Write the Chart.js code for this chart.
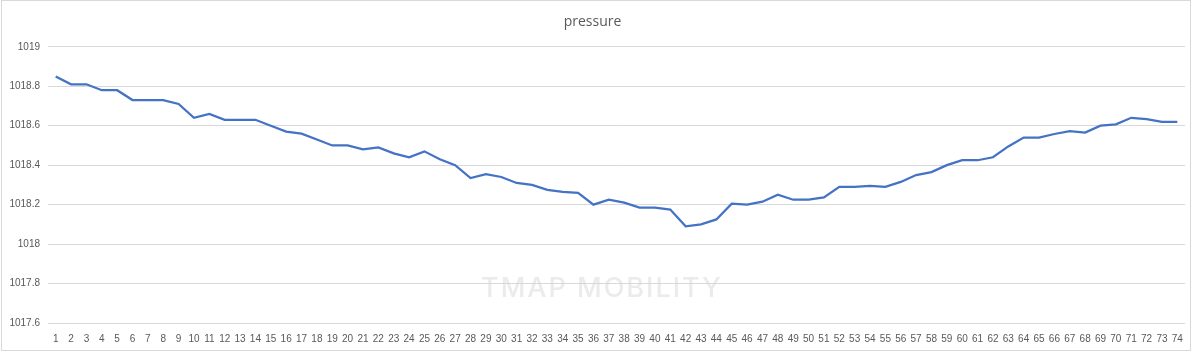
<!DOCTYPE html>
<html>
<head>
<meta charset="utf-8">
<script src="https://cdn.jsdelivr.net/npm/chart.js@4/dist/chart.umd.min.js"></script>
<style>
  html, body { margin: 0; padding: 0; background: #fff; }
  #wrap { width: 1201px; height: 353px; position: relative; }
</style>
</head>
<body>
<div id="wrap"><canvas id="pressure-chart" width="1201" height="353"></canvas></div>
<script>
const labels = Array.from({length: 74}, (_, i) => String(i + 1));

const pressure = [
    1018.85, 1018.81, 1018.81, 1018.78, 1018.78, 1018.73, 1018.73, 1018.73, 1018.71, 1018.64,
    1018.66, 1018.63, 1018.63, 1018.63, 1018.60, 1018.57, 1018.56, 1018.53, 1018.50, 1018.50,
    1018.48, 1018.49, 1018.46, 1018.44, 1018.47, 1018.43, 1018.40, 1018.335, 1018.355, 1018.34,
    1018.31, 1018.30, 1018.275, 1018.265, 1018.26, 1018.20, 1018.225, 1018.21, 1018.185, 1018.185,
    1018.175, 1018.09, 1018.10, 1018.125, 1018.205, 1018.20, 1018.215, 1018.25, 1018.225, 1018.225,
    1018.237, 1018.29, 1018.29, 1018.295, 1018.29, 1018.315, 1018.35, 1018.365, 1018.40, 1018.425,
    1018.425, 1018.44, 1018.495, 1018.54, 1018.54, 1018.558, 1018.572, 1018.565, 1018.60, 1018.607,
    1018.64, 1018.633, 1018.62, 1018.62,
];

const yMin = 1017.6;
const yMax = 1019;
const yStep = 0.2;

const textColor = '#595959';
const gridColor = '#d9d9d9';

// white background, thin outer frame, faint watermark
const framePlugin = {
    id: 'frame',
    beforeDraw(chart) {
        const ctx = chart.ctx;
        ctx.save();
        ctx.fillStyle = '#ffffff';
        ctx.fillRect(0, 0, chart.width, chart.height);
        ctx.strokeStyle = '#d9d9d9';
        ctx.lineWidth = 1;
        ctx.strokeRect(1.5, 0.5, 1189, 350);
        ctx.restore();
    },
    afterDraw(chart) {
        const ctx = chart.ctx;
        ctx.save();
        ctx.fillStyle = 'rgba(210, 210, 210, 0.45)';
        ctx.font = '500 27px Inter';
        ctx.textAlign = 'center';
        ctx.textBaseline = 'middle';
        ctx.letterSpacing = '2px';
        ctx.fillText('TMAP MOBILITY', 602, 289);
        ctx.restore();
    },
};

const ctx = document.getElementById('pressure-chart').getContext('2d');
const chart = new Chart(ctx, {
    type: 'line',
    data: {
        labels: labels,
        datasets: [{
            label: 'pressure',
            data: pressure,
            borderColor: '#4472C4',
            borderWidth: 2.25,
            pointRadius: 0,
            tension: 0,
            fill: false,
        }],
    },
    options: {
        responsive: false,
        animation: false,
        layout: {
            padding: {left: 0, right: 16, top: 0, bottom: 9},
        },
        plugins: {
            legend: {display: false},
            tooltip: {enabled: false},
            title: {
                display: true,
                text: 'pressure',
                color: textColor,
                font: {family: 'Open Sans', size: 14, weight: 'normal'},
                padding: {top: 14, bottom: 16},
            },
        },
        scales: {
            x: {
                offset: true,
                grid: {display: false, drawTicks: false},
                border: {display: false},
                ticks: {
                    autoSkip: false,
                    maxRotation: 0,
                    minRotation: 0,
                    padding: 10,
                    color: textColor,
                    font: {family: 'Liberation Sans', size: 10},
                },
                afterFit: (scale) => { scale.height = 21; },
            },
            y: {
                min: yMin,
                max: yMax,
                grid: {color: gridColor, lineWidth: 1, drawTicks: false},
                border: {display: false},
                ticks: {
                    stepSize: yStep,
                    padding: 8,
                    color: textColor,
                    font: {family: 'Liberation Sans', size: 10},
                    callback: (value) => String(Number(value.toFixed(1))),
                },
                afterFit: (scale) => { scale.width = 48; },
            },
        },
    },
    plugins: [framePlugin],
});
</script>
</body>
</html>
